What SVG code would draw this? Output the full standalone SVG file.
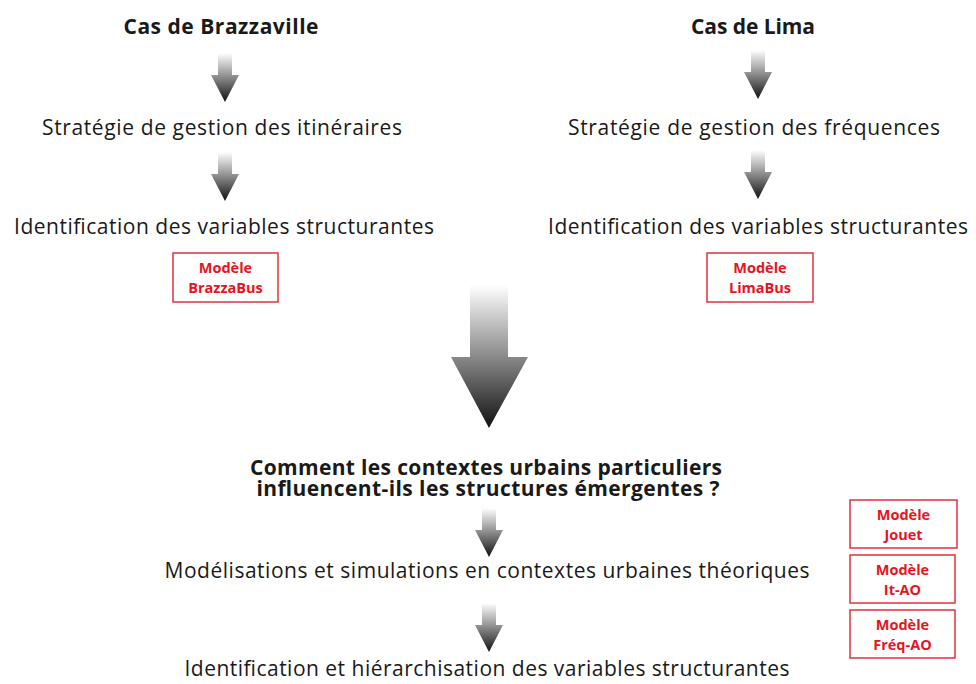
<svg xmlns="http://www.w3.org/2000/svg" width="976" height="684" viewBox="0 0 976 684">
<defs>
<linearGradient id="g" x1="0" y1="0" x2="0" y2="1">
<stop offset="0" stop-color="#ffffff"/>
<stop offset="0.5" stop-color="#8a8a8a"/>
<stop offset="1" stop-color="#111111"/>
</linearGradient>
<style>
.t{font-family:"Open Sans","Noto Sans","DejaVu Sans",sans-serif;font-size:21px;fill:#1a1a1a;text-anchor:middle}
.b{font-weight:bold}
.m{font-family:"Open Sans","Noto Sans","DejaVu Sans",sans-serif;font-size:14.5px;font-weight:bold;fill:#e8141c;text-anchor:middle}
.box{fill:#ffffff;stroke:#e0333a;stroke-width:1.5}
.arr{fill:url(#g)}
</style>
</defs>
<rect width="976" height="684" fill="#ffffff"/>
<g id="brazzaville">
<text class="t b" x="221" y="34" font-size="20" textLength="195">Cas de Brazzaville</text>
<text class="t" x="222" y="135" textLength="360">Stratégie de gestion des itinéraires</text>
<text class="t" x="224" y="234" textLength="420">Identification des variables structurantes</text>
</g>
<g id="brazzabus">
<rect class="box" x="173" y="253" width="105" height="49"/>
<text class="m" x="225.5" y="273">Modèle</text>
<text class="m" x="225.5" y="293">BrazzaBus</text>
</g>
<g id="lima">
<text class="t b" x="753" y="34" font-size="20" textLength="124">Cas de Lima</text>
<text class="t" x="754" y="135" textLength="372">Stratégie de gestion des fréquences</text>
<text class="t" x="758" y="234" textLength="420">Identification des variables structurantes</text>
</g>
<g id="limabus">
<rect class="box" x="707" y="253" width="106" height="49"/>
<text class="m" x="760" y="273">Modèle</text>
<text class="m" x="760" y="293">LimaBus</text>
</g>
<g id="question">
<text class="t b" x="486" y="475" font-size="18.5" textLength="472">Comment les contextes urbains particuliers</text>
<text class="t b" x="488" y="496" font-size="18.5" textLength="463">influencent-ils les structures émergentes ?</text>
</g>
<g id="modelisation">
<text class="t" x="487" y="578" textLength="645">Modélisations et simulations en contextes urbaines théoriques</text>
</g>
<g id="identification">
<text class="t" x="487" y="676" textLength="605">Identification et hiérarchisation des variables structurantes</text>
</g>
<g id="jouet">
<rect class="box" x="850" y="500" width="107" height="48"/>
<text class="m" x="903.5" y="520">Modèle</text>
<text class="m" x="903.5" y="540">Jouet</text>
</g>
<g id="itao">
<rect class="box" x="850" y="555" width="105" height="48"/>
<text class="m" x="902.5" y="575">Modèle</text>
<text class="m" x="902.5" y="595">It-AO</text>
</g>
<g id="freqao">
<rect class="box" x="850" y="610" width="105" height="48"/>
<text class="m" x="902.5" y="630">Modèle</text>
<text class="m" x="902.5" y="650">Fréq-AO</text>
</g>
<g id="connectors">
<path class="arr" d="M218 53 H232 V75 H239 L225 102 L211 75 H218 Z"/>
<path class="arr" d="M751 50 H765 V72 H772 L758 99 L744 72 H751 Z"/>
<path class="arr" d="M218 152 H232 V174 H239 L225 201 L211 174 H218 Z"/>
<path class="arr" d="M751 150 H765 V172 H772 L758 199 L744 172 H751 Z"/>
<path class="arr" d="M470 285 H508 V357 H528 L489 428 L451 357 H470 Z"/>
<path class="arr" d="M482 508 H496 V530 H503 L489 557 L475 530 H482 Z"/>
<path class="arr" d="M482 603 H496 V625 H503 L489 652 L475 625 H482 Z"/>
</g>
</svg>
